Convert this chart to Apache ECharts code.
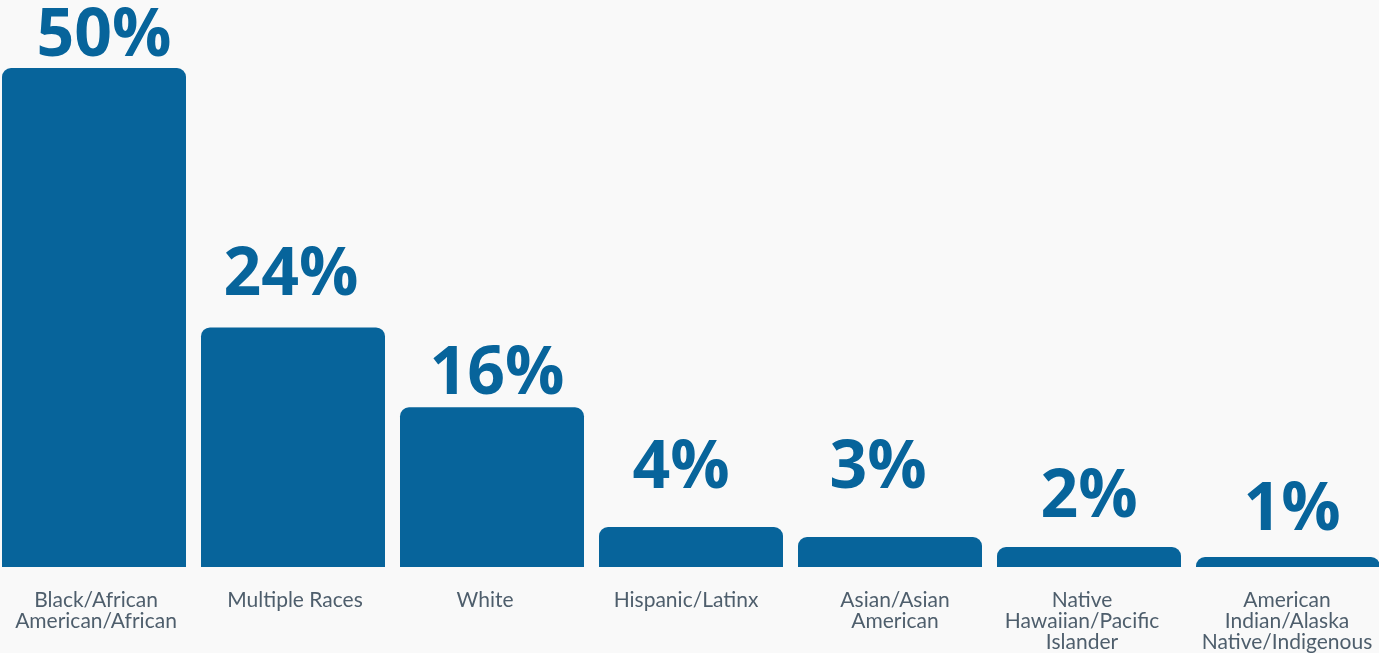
<!DOCTYPE html>
<html><head><meta charset="utf-8">
<style>html,body{margin:0;padding:0;background:#f9f9f9;overflow:hidden;width:1379px;height:653px;}#c{position:absolute;left:-6px;top:0;width:1394px;height:653px;}</style>
<script src="https://cdn.jsdelivr.net/npm/echarts@6/dist/echarts.min.js"></script>
</head><body><div id="c"></div>
<script>
const categories = ["Black/African\nAmerican/African", "Multiple Races", "White", "Hispanic/Latinx", "Asian/Asian\nAmerican", "Native\nHawaiian/Pacific\nIslander", "American\nIndian/Alaska\nNative/Indigenous"];
const values = [50, 24, 16, 4, 3, 2, 1];
// label nudges [dx, dy] (styling only)
const labelNudge = [[10, 0], [-2, -20], [5, -1], [-10, -27], [-12, -37], [0, -18], [4, -15]];
// horizontal nudges for category labels (styling only)
const catNudge = [2, 2, -7, -5, 5, -7, -1];

const chart = echarts.init(document.getElementById('c'), null, {renderer: 'canvas'});
chart.setOption({
  backgroundColor: '#f9f9f9',
  animation: false,
  grid: {left: 0.5, width: 1393, top: 68, bottom: 85, containLabel: false},
  xAxis: {
    type: 'category',
    data: categories.map((c, i) => ({
      value: c,
      textStyle: {padding: catNudge[i] >= 0 ? [0, 0, 0, 2 * catNudge[i]] : [0, -2 * catNudge[i], 0, 0]}
    })),
    axisLine: {show: false}, axisTick: {show: false},
    axisLabel: {color: '#4e5e6c', fontFamily: 'Lato', fontSize: 21, lineHeight: 21, margin: 23, interval: 0, verticalAlign: 'top'}
  },
  yAxis: {type: 'value', min: 0, max: 50, show: false, splitLine: {show: false}},
  series: [{
    type: 'bar',
    data: values.map((v, i) => ({value: v, label: {offset: labelNudge[i]}})),
    barWidth: 184,
    itemStyle: {color: '#07649b', borderRadius: [9, 9, 0, 0]},
    label: {show: true, position: 'top', distance: -2, formatter: '{c}%', color: '#07649b', fontFamily: 'Open Sans', fontWeight: 'bold', fontSize: 66}
  }]
});
</script></body></html>
